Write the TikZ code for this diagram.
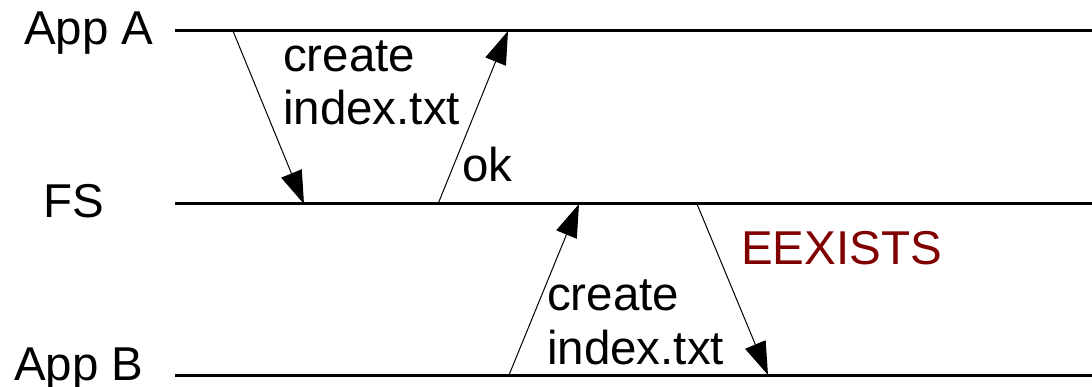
\documentclass[tikz,border=0pt]{standalone}
\usepackage{fontspec}
\setmainfont{Liberation Sans}
\usetikzlibrary{arrows.meta}
\definecolor{errred}{RGB}{128,0,0}
\begin{document}
\begin{tikzpicture}[x=1pt,y=-1pt,
  lbl/.style={anchor=base west,inner sep=0pt,font=\fontsize{47.5}{57}\selectfont},
  lifeline/.style={line width=3pt},
  msg/.style={line width=1pt,-{Triangle[length=33pt,width=22pt]}}]
\useasboundingbox (0,0) rectangle (1092,387);
% lifelines
\coordinate (aL) at (175,31);  \coordinate (aR) at (1092,31);
\coordinate (fL) at (175,204); \coordinate (fR) at (1092,204);
\coordinate (bL) at (175,375); \coordinate (bR) at (1092,375);
\draw[lifeline] (aL) -- (aR);
\draw[lifeline] (fL) -- (fR);
\draw[lifeline] (bL) -- (bR);
% labels
\node[lbl] (appa) at (24,45) {App A};
\node[lbl] (fs) at (43,218) {FS};
\node[lbl] (appb) at (14,380) {App B};
% message endpoints
\coordinate (m1s) at (233,31);  \coordinate (m1e) at (304,204);
\coordinate (m2s) at (438,204); \coordinate (m2e) at (508,31);
\coordinate (m3s) at (509,375); \coordinate (m3e) at (579,204);
\coordinate (m4s) at (697,204); \coordinate (m4e) at (768,375);
\draw[msg] (m1s) -- (m1e);
\draw[msg] (m2s) -- (m2e);
\draw[msg] (m3s) -- (m3e);
\draw[msg] (m4s) -- (m4e);
% message labels
\node[lbl] (c1) at (283,72) {create};
\node[lbl] (i1) at (283,125) {index.txt};
\node[lbl] (ok) at (462,182) {ok};
\node[lbl] (c2) at (547,310) {create};
\node[lbl] (i2) at (547,364) {index.txt};
\node[lbl,text=errred] (err) at (741,265) {EEXISTS};
\end{tikzpicture}
\end{document}
